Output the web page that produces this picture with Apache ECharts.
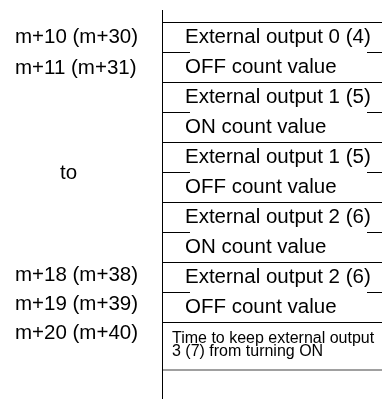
<!DOCTYPE html>
<html>
<head>
<meta charset="utf-8">
<script src="https://cdn.jsdelivr.net/npm/echarts@6/dist/echarts.min.js"></script>
<style>
html,body{margin:0;padding:0;background:#fff;}
#chart{width:382px;height:399px;}
</style>
</head>
<body>
<div id="chart"></div>
<script>
// Table cell texts (one per row of the memory map)
const cellTexts = [
  "External output 0 (4)",
  "OFF count value",
  "External output 1 (5)",
  "ON count value",
  "External output 1 (5)",
  "OFF count value",
  "External output 2 (6)",
  "ON count value",
  "External output 2 (6)",
  "OFF count value",
  "Time to keep external output\n3 (7) from turning ON"
];
// Left address labels and the row position (in row units) they sit at
const addressLabels = ["m+10 (m+30)", "m+11 (m+31)", "to", "m+18 (m+38)", "m+19 (m+39)", "m+20 (m+40)"];
const addressRows   = [0.5, 1.53, 5.03, 8.43, 9.42, 10.37];
const lastRowSpan = 1.6;

const FONT = '"Liberation Sans", Arial, sans-serif';
const chart = echarts.init(document.getElementById('chart'));

function crisp(v){ return Math.round(v - 0.5) + 0.5; }

chart.setOption({
  animation: false,
  backgroundColor: '#fff',
  grid: {left: 0, right: 0, top: 22, height: 300},
  xAxis: {type: 'value', min: 0, max: 382, show: false},
  yAxis: {type: 'value', min: 0, max: 10, inverse: true, show: false},
  series: [
    {
      type: 'custom',
      clip: false,
      silent: true,
      data: cellTexts.map((t, i) => [i, t]),
      renderItem: function (params, api) {
        const i = api.value(0);
        const text = cellTexts[i];
        const last = i === cellTexts.length - 1;
        const span = last ? lastRowSpan : 1;
        const top = api.coord([0, i])[1];
        const bottom = api.coord([0, i + span])[1];
        const xLeft = api.coord([163, 0])[0];
        const xRight = api.coord([382, 0])[0];
        const yl = crisp(top + 0.5);
        const children = [];
        const ls = {stroke: '#000', lineWidth: 1};
        if (i % 2 === 0) {
          children.push({type: 'line', shape: {x1: xLeft, y1: yl, x2: xRight, y2: yl}, style: ls});
        } else {
          children.push({type: 'line', shape: {x1: xLeft, y1: yl, x2: api.coord([190, 0])[0], y2: yl}, style: ls});
          children.push({type: 'line', shape: {x1: api.coord([367, 0])[0], y1: yl, x2: xRight, y2: yl}, style: ls});
        }
        if (last) {
          const yb = bottom;
          children.push({type: 'line', shape: {x1: xLeft, y1: yb, x2: xRight, y2: yb}, style: {stroke: '#808080', lineWidth: 1.6}});
          children.push({
            type: 'text',
            style: {
              x: api.coord([172, 0])[0], y: top + 10,
              text: text, fill: '#000', font: '16px ' + FONT,
              lineHeight: 13, align: 'left', verticalAlign: 'top'
            }
          });
        } else {
          children.push({
            type: 'text',
            style: {
              x: api.coord([185, 0])[0], y: (top + bottom) / 2,
              text: text, fill: '#000', font: '20.5px ' + FONT,
              align: 'left', verticalAlign: 'middle'
            }
          });
        }
        if (i === 0) {
          const xv = crisp(api.coord([162, 0])[0] + 0.5);
          children.push({type: 'line', shape: {x1: xv, y1: 10, x2: xv, y2: 399}, style: ls});
        }
        return {type: 'group', children: children};
      }
    },
    {
      type: 'custom',
      clip: false,
      silent: true,
      data: addressLabels.map((t, i) => [addressRows[i], t]),
      renderItem: function (params, api) {
        const idx = params.dataIndex;
        const text = addressLabels[idx];
        const y = api.coord([0, api.value(0)])[1];
        const x = api.coord([text === 'to' ? 60 : 15, 0])[0];
        return {
          type: 'text',
          style: {
            x: x, y: y, text: text, fill: '#000',
            font: '20.5px ' + FONT, align: 'left', verticalAlign: 'middle'
          }
        };
      }
    }
  ]
});
</script>
</body>
</html>
